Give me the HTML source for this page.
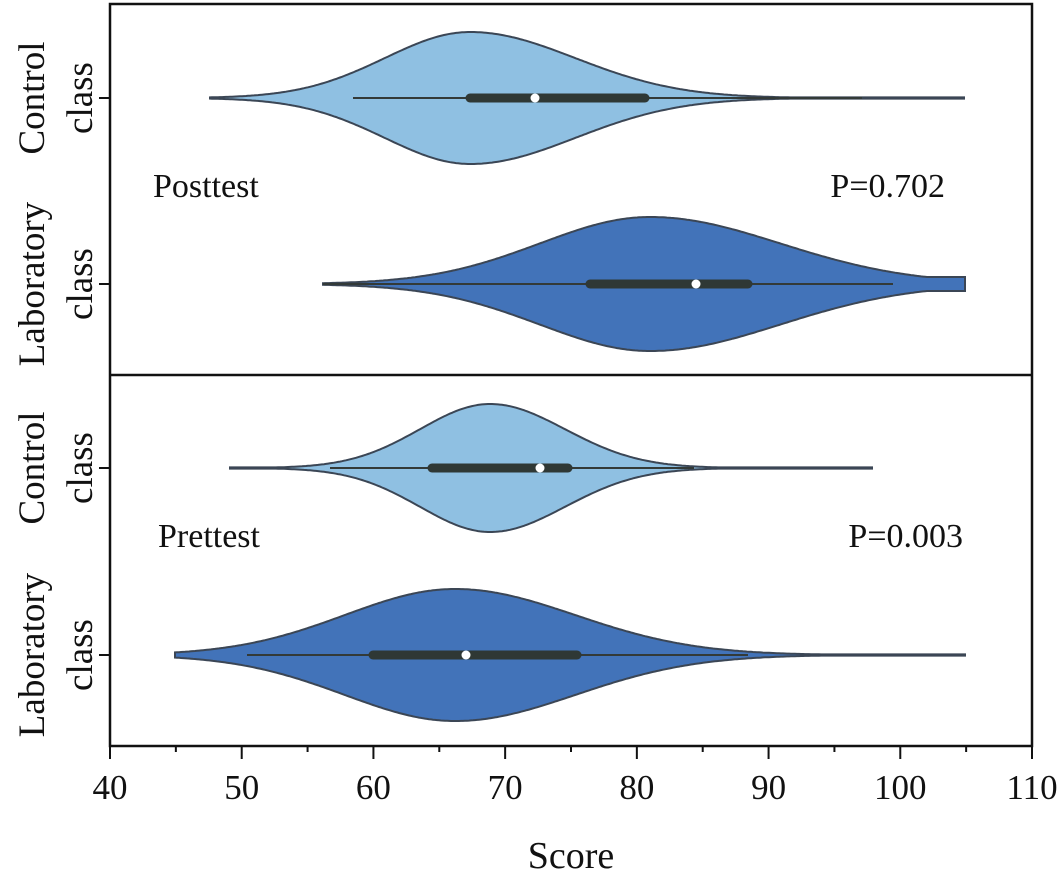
<!DOCTYPE html>
<html><head><meta charset="utf-8"><style>
html,body{margin:0;padding:0;background:#fff;}
svg{display:block;font-family:"Liberation Serif",serif;}
</style></head><body>
<svg id="s" width="1064" height="877" viewBox="0 0 1064 877" xmlns="http://www.w3.org/2000/svg">
<rect x="0" y="0" width="1064" height="877" fill="#fff"/>
<g id="v"></g>
<rect x="110" y="4" width="922" height="742" fill="none" stroke="#111" stroke-width="2.5"/>
<line x1="110" y1="375" x2="1032" y2="375" stroke="#111" stroke-width="2.5"/>
<g stroke="#111" stroke-width="2">
<line x1="99" y1="98" x2="110" y2="98"/><line x1="99" y1="284" x2="110" y2="284"/>
<line x1="99" y1="468" x2="110" y2="468"/><line x1="99" y1="655" x2="110" y2="655"/>
<g id="tk"></g>
</g>
<g font-size="35" fill="#111" text-anchor="middle">
<text x="110" y="799">40</text><text x="241.7" y="799">50</text><text x="373.4" y="799">60</text>
<text x="505.1" y="799">70</text><text x="636.9" y="799">80</text><text x="768.6" y="799">90</text>
<text x="900.3" y="799">100</text><text x="1032" y="799">110</text>
<text x="571" y="868" font-size="38">Score</text>
</g>
<g font-size="37" fill="#111" text-anchor="middle">
<text transform="translate(44,98) rotate(-90)">Control</text>
<text transform="translate(92,98) rotate(-90)">class</text>
<text transform="translate(44,284) rotate(-90)">Laboratory</text>
<text transform="translate(92,284) rotate(-90)">class</text>
<text transform="translate(44,468) rotate(-90)">Control</text>
<text transform="translate(92,468) rotate(-90)">class</text>
<text transform="translate(44,655) rotate(-90)">Laboratory</text>
<text transform="translate(92,655) rotate(-90)">class</text>
</g>
<g font-size="34" fill="#111">
<text x="153" y="197">Posttest</text>
<text x="945" y="197" text-anchor="end">P=0.702</text>
<text x="158" y="547">Prettest</text>
<text x="963" y="547" text-anchor="end">P=0.003</text>
</g>
</svg>
<script>
var ns="http://www.w3.org/2000/svg";
var tk=document.getElementById("tk");
for(var i=0;i<=14;i++){var x=110+i*65.857;var l=document.createElementNS(ns,"line");
l.setAttribute("x1",x);l.setAttribute("x2",x);l.setAttribute("y1",746);l.setAttribute("y2",i%2?752:759);tk.appendChild(l);}
var V=[
{y:98,c:470,A:66,sL:85,sR:105,a:210,b:965,f:0.6,col:"#8fc0e2",w:[353,862],bx:[470,645],m:535},
{y:284,c:650,A:67,sL:110,sR:130,a:323,b:965,f:7,col:"#4273b9",w:[323,893],bx:[590,748],m:696},
{y:468,c:490,A:64,sL:70,sR:75,a:230,b:872,f:0.6,col:"#8fc0e2",w:[330,694],bx:[432,568],m:540},
{y:655,c:455,A:66,sL:110,sR:120,a:175,b:965,f:0.6,col:"#4273b9",w:[247,748],bx:[373,577],m:466}];
var g=document.getElementById("v");
V.forEach(function(v){
 function w(x){var s=x<v.c?v.sL:v.sR;var r=v.A*Math.exp(-0.5*Math.pow((x-v.c)/s,2));
 if(x>v.c) r=Math.max(r,v.f); return Math.max(r,0.6);}
 var top=[],bot=[];
 for(var x=v.a;x<=v.b;x+=2){top.push(x+","+(v.y-w(x)).toFixed(1));bot.unshift(x+","+(v.y+w(x)).toFixed(1));}
 var p=document.createElementNS(ns,"polygon");p.setAttribute("points",top.concat(bot).join(" "));
 p.setAttribute("fill",v.col);p.setAttribute("stroke","#3b4655");p.setAttribute("stroke-width","2");g.appendChild(p);
 var l=document.createElementNS(ns,"line");l.setAttribute("x1",v.w[0]);l.setAttribute("x2",v.w[1]);l.setAttribute("y1",v.y);l.setAttribute("y2",v.y);
 l.setAttribute("stroke","#333a38");l.setAttribute("stroke-width","2");g.appendChild(l);
 var b=document.createElementNS(ns,"line");b.setAttribute("x1",v.bx[0]);b.setAttribute("x2",v.bx[1]);b.setAttribute("y1",v.y);b.setAttribute("y2",v.y);
 b.setAttribute("stroke","#2f3835");b.setAttribute("stroke-width","9");b.setAttribute("stroke-linecap","round");g.appendChild(b);
 var c=document.createElementNS(ns,"circle");c.setAttribute("cx",v.m);c.setAttribute("cy",v.y);c.setAttribute("r","4.5");c.setAttribute("fill","#fff");g.appendChild(c);
});
</script>
</body></html>
